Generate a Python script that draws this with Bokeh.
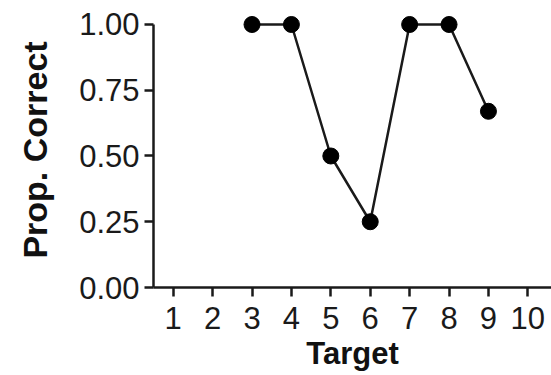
from bokeh.plotting import figure
from bokeh.models import Range1d, FixedTicker
from bokeh.embed import file_html
from bokeh.resources import INLINE

# Data
targets = [3, 4, 5, 6, 7, 8, 9]
prop_correct = [1.00, 1.00, 0.50, 0.25, 1.00, 1.00, 0.67]
x_ticks = [1, 2, 3, 4, 5, 6, 7, 8, 9, 10]
y_ticks = [0.0, 0.25, 0.5, 0.75, 1.0]
y_tick_labels = {0.0: "0.00", 0.25: "0.25", 0.5: "0.50", 0.75: "0.75", 1.0: "1.00"}

p = figure(width=551, height=375, output_backend="svg", toolbar_location=None,
           x_range=Range1d(0.5, 10.6), y_range=Range1d(0, 1.0456),
           min_border_left=153, min_border_right=0, min_border_top=12, min_border_bottom=88)
p.outline_line_color = None
p.grid.visible = False
p.background_fill_color = "white"
p.border_fill_color = "white"

p.line(targets, prop_correct, line_color="#1a1a1a", line_width=2.5)
p.scatter(targets, prop_correct, size=16, fill_color="black", line_color="black")

font = "Liberation Sans"
for ax in (p.xaxis[0], p.yaxis[0]):
    ax.axis_line_width = 2.5
    ax.axis_line_color = "#1a1a1a"
    ax.major_tick_line_width = 2.5
    ax.major_tick_line_color = "#1a1a1a"
    ax.major_tick_out = 9
    ax.major_tick_in = 0
    ax.minor_tick_out = 0
    ax.minor_tick_in = 0
    ax.major_label_text_font = font
    ax.major_label_text_font_size = "31px"
    ax.major_label_text_color = "#1a1a1a"
    ax.axis_label_text_font = font
    ax.axis_label_text_font_style = "bold"
    ax.axis_label_text_color = "#111111"

p.xaxis.ticker = FixedTicker(ticks=x_ticks)
p.xaxis.axis_label = "Target"
p.xaxis.axis_label_text_font_size = "31px"
p.xaxis.major_label_standoff = 10
p.xaxis.axis_label_standoff = 4

p.yaxis.ticker = FixedTicker(ticks=y_ticks)
p.yaxis.major_label_overrides = y_tick_labels
p.yaxis.bounds = (0, 1)
p.yaxis.axis_label = "Prop. Correct"
p.yaxis.axis_label_text_font_size = "34px"
p.yaxis.major_label_standoff = 5
p.yaxis.axis_label_standoff = 22

open("out.html", "w").write(file_html(p, INLINE))
